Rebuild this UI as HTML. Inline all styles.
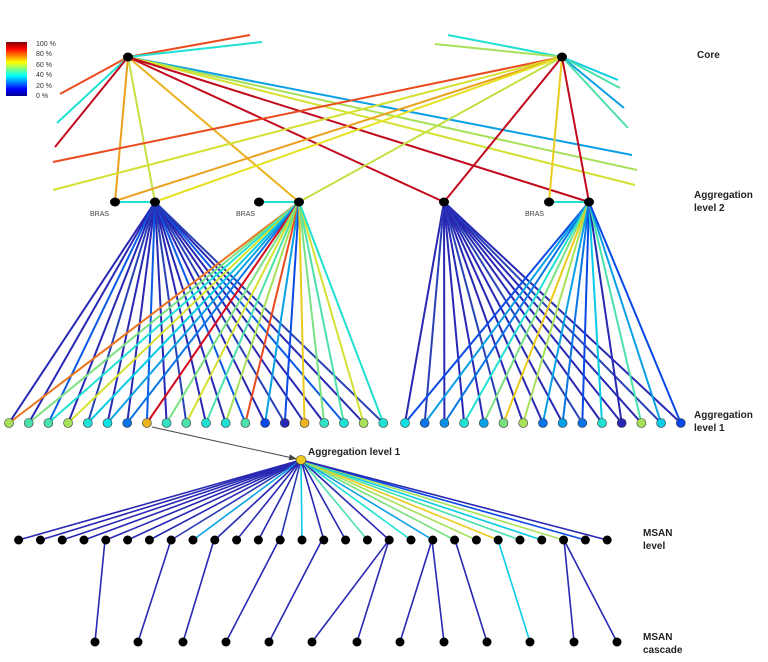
<!DOCTYPE html>
<html><head><meta charset="utf-8"><style>
html,body{margin:0;padding:0;background:#fff;width:768px;height:662px;overflow:hidden}
svg{display:block}
text{font-family:"Liberation Sans",sans-serif}
</style></head><body>
<svg id="s" width="768" height="662" viewBox="0 0 768 662" xmlns="http://www.w3.org/2000/svg">
<defs><linearGradient id="jet" x1="0" y1="1" x2="0" y2="0">
<stop offset="0" stop-color="#00008f"/><stop offset="0.125" stop-color="#0000ff"/><stop offset="0.375" stop-color="#00ffff"/><stop offset="0.625" stop-color="#ffff00"/><stop offset="0.875" stop-color="#ff0000"/><stop offset="1" stop-color="#800000"/></linearGradient>
<marker id="ar" markerWidth="8" markerHeight="6" refX="8" refY="3" orient="auto"><path d="M0,0 L8,3 L0,6 z" fill="#444"/></marker></defs>
<rect x="6" y="42" width="21" height="54" fill="url(#jet)"/>
<g font-size="7" fill="#333"><text x="36" y="46">100 %</text><text x="36" y="56">80 %</text><text x="36" y="67">60 %</text><text x="36" y="77">40 %</text><text x="36" y="88">20 %</text><text x="36" y="98">0 %</text></g>
<g id="lines" stroke-width="2" fill="none"></g>
<g id="nodes"></g>
<g font-size="7" fill="#444"><text x="90" y="216">BRAS</text><text x="236" y="216">BRAS</text><text x="525" y="216">BRAS</text></g>
<g font-size="10" font-weight="bold" fill="#222">
<text x="697" y="58">Core</text>
<text x="694" y="198">Aggregation</text><text x="694" y="211">level 2</text>
<text x="694" y="418">Aggregation</text><text x="694" y="431">level 1</text>
<text x="308" y="455">Aggregation level 1</text>
<text x="643" y="536">MSAN</text><text x="643" y="549">level</text>
<text x="643" y="640">MSAN</text><text x="643" y="653">cascade</text></g>
</svg>
<script>
var L=document.getElementById('lines'),N=document.getElementById('nodes'),ns='http://www.w3.org/2000/svg';
function jet(v){var r=Math.min(1,Math.max(0,1.5-Math.abs(4*v-3))),g=Math.min(1,Math.max(0,1.5-Math.abs(4*v-2))),b=Math.min(1,Math.max(0,1.5-Math.abs(4*v-1)));
var R=r*225+10,G=g*215+10,B=b*200+30;if(v<0.2){R=40;G=Math.max(40,G);B=Math.min(B,180);}return 'rgb('+(R|0)+','+(G|0)+','+(B|0)+')';}
function ln(x1,y1,x2,y2,v,w){var e=document.createElementNS(ns,'line');e.setAttribute('x1',x1);e.setAttribute('y1',y1);e.setAttribute('x2',x2);e.setAttribute('y2',y2);e.setAttribute('stroke',typeof v=='string'?v:jet(v));if(w)e.setAttribute('stroke-width',w);L.appendChild(e);}
function nd(x,y,c,rx,ry){var e=document.createElementNS(ns,'ellipse');e.setAttribute('cx',x);e.setAttribute('cy',y);e.setAttribute('rx',rx||5);e.setAttribute('ry',ry||4.5);e.setAttribute('fill',c);if(c!='#000'){e.setAttribute('stroke','#333');e.setAttribute('stroke-width','0.6');}N.appendChild(e);}
var C1=[128,57],C2=[562,57];
[[250,35,.8],[262,42,.4],[60,94,.8],[57,123,.4],[55,147,.92],[632,155,.3],[637,170,.55],[635,185,.6],[115,202,.7],[155,202,.58],[299,202,.68],[444,202,.92],[589,202,.92]].forEach(function(a){ln(C1[0],C1[1],a[0],a[1],a[2]);});
[[448,35,.4],[435,44,.55],[53,162,.8],[53,190,.6],[118,200,.7],[160,200,.62],[299,202,.58],[444,202,.92],[549,202,.65],[589,202,.92],[618,80,.35],[620,88,.45],[624,108,.3],[628,128,.45]].forEach(function(a){ln(C2[0],C2[1],a[0],a[1],a[2]);});
[[115,155],[259,299],[549,589]].forEach(function(p){ln(p[0],202,p[1],202,.4);});
var lx=[],rx=[];for(var i=0;i<20;i++)lx.push(9+i*19.7);for(i=0;i<15;i++)rx.push(405+i*19.7);
var lc=[.55,.45,.45,.55,.4,.38,.25,.68,.42,.45,.4,.4,.45,.2,.15,.68,.42,.4,.55,.4];
var rc=[.38,.25,.28,.4,.3,.5,.55,.25,.3,.25,.4,.1,.55,.35,.2];
lx.forEach(function(x,i){ln(155,202,x,423,.1+((i*7)%5)*.03);});
var mix=[.75,.5,.4,.6,.35,.3,.25,.9,.5,.6,.45,.55,.8,.3,.2,.65,.5,.45,.6,.4];
lx.forEach(function(x,i){ln(299,202,x,423,mix[i]);});
rx.forEach(function(x,i){ln(444,202,x,423,.1+((i*3)%4)*.03);});
var rm=[.2,.3,.25,.4,.5,.65,.55,.3,.25,.2,.35,.15,.45,.3,.2];
rx.forEach(function(x,i){ln(589,202,x,423,rm[i]);});
var a=document.createElementNS(ns,'line');a.setAttribute('x1',152);a.setAttribute('y1',427);a.setAttribute('x2',297);a.setAttribute('y2',459);a.setAttribute('stroke','#444');a.setAttribute('stroke-width','1');a.setAttribute('marker-end','url(#ar)');L.appendChild(a);
var mx=[];for(i=0;i<28;i++)mx.push(18.6+i*21.8);
var mc=[.12,.14,.12,.15,.12,.14,.15,.18,.3,.15,.12,.14,.18,.35,.15,.12,.45,.14,.4,.3,.5,.55,.65,.45,.35,.55,.2,.12];
mx.forEach(function(x,i){ln(301,460,x,540,mc[i],1.6);});
var cs=[[105,95],[171,138],[214,183],[279,226],[322,269],[389,312],[389,357],[432,400],[432,444],[455,487],[498,530],[564,574],[564,617]];
cs.forEach(function(p,i){ln(p[0],540,p[1],642,i==10?.35:.12,1.6);});
nd(128,57,'#000');nd(562,57,'#000');
[115,155,259,299,444,549,589].forEach(function(x){nd(x,202,'#000');});
lx.forEach(function(x,i){nd(x,423,jet(lc[i]),4.5,4.5);});
rx.forEach(function(x,i){nd(x,423,jet(rc[i]),4.5,4.5);});
nd(301,460,jet(.65),5,4.5);
mx.forEach(function(x){nd(x,540,'#000',4.5,4.5);});
cs.forEach(function(p){nd(p[1],642,'#000',4.5,4.5);});
</script>
</body></html>
